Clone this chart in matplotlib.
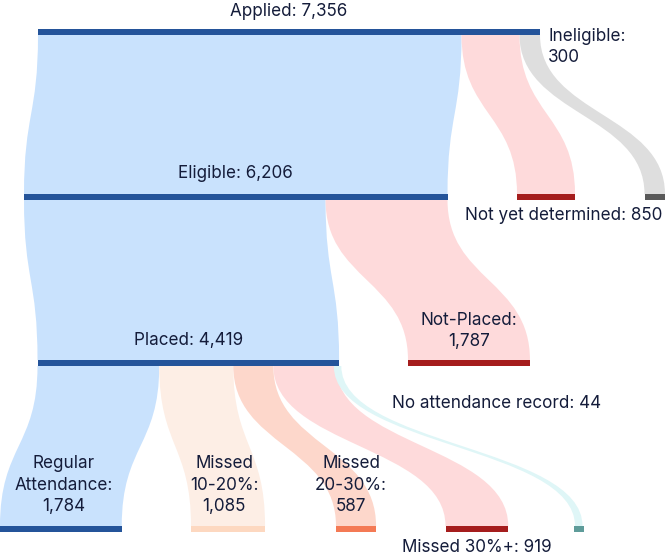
import matplotlib
matplotlib.use("Agg")
import matplotlib.pyplot as plt
from matplotlib.path import Path
from matplotlib.patches import PathPatch, Rectangle

# ---- data ----
node_names = ["Applied", "Eligible", "Not yet determined", "Ineligible",
              "Placed", "Not-Placed",
              "Regular Attendance", "Missed 10-20%", "Missed 20-30%",
              "Missed 30%+", "No attendance record"]
node_values = [7356, 6206, 850, 300, 4419, 1787, 1784, 1085, 587, 919, 44]
links_source = ["Applied", "Applied", "Applied",
                "Eligible", "Eligible",
                "Placed", "Placed", "Placed", "Placed", "Placed"]
links_target = ["Eligible", "Not yet determined", "Ineligible",
                "Placed", "Not-Placed",
                "Regular Attendance", "Missed 10-20%", "Missed 20-30%",
                "Missed 30%+", "No attendance record"]
links_value = [6206, 850, 300, 4419, 1787, 1784, 1085, 587, 919, 44]

# ---- layout / style ----
W, H = 665, 559
scale = 502.0 / 7356.0          # px per unit
bar_h = 6
min_node_w = 9.5
min_link_w = 7.5
level = {"Applied": 0, "Eligible": 1, "Not yet determined": 1, "Ineligible": 1,
         "Placed": 2, "Not-Placed": 2,
         "Regular Attendance": 3, "Missed 10-20%": 3, "Missed 20-30%": 3,
         "Missed 30%+": 3, "No attendance record": 3}
level_y = [29, 194, 360, 526]
node_x0 = {"Applied": 38, "Eligible": 24, "Not yet determined": 517,
           "Ineligible": 644.5, "Placed": 37.5, "Not-Placed": 408,
           "Regular Attendance": 0, "Missed 10-20%": 191, "Missed 20-30%": 336,
           "Missed 30%+": 445.5, "No attendance record": 574}
node_color = {"Applied": "#24549a", "Eligible": "#24549a", "Placed": "#24549a",
              "Regular Attendance": "#24549a",
              "Not yet determined": "#a51d1d", "Not-Placed": "#a51d1d",
              "Missed 30%+": "#a51d1d", "Ineligible": "#595959",
              "Missed 10-20%": "#fdd8c0", "Missed 20-30%": "#f47a55",
              "No attendance record": "#5e9c9a"}
flow_color = {"Eligible": "#c9e2fd", "Placed": "#c9e2fd",
              "Regular Attendance": "#c9e2fd",
              "Not yet determined": "#fedadb", "Not-Placed": "#fedadb",
              "Missed 30%+": "#fedadb", "Ineligible": "#dedede",
              "Missed 10-20%": "#fdeee5", "Missed 20-30%": "#fdd7cb",
              "No attendance record": "#dff6f7"}
text_color = "#141c3a"

plt.rcParams['font.family'] = ['Inter', 'DejaVu Sans']
fig = plt.figure(figsize=(W / 100, H / 100), dpi=100)
ax = fig.add_axes([0, 0, 1, 1])
ax.set_xlim(0, W)
ax.set_ylim(H, 0)
ax.axis("off")

val = dict(zip(node_names, node_values))

def node_w(n):
    return max(val[n] * scale, min_node_w)

# flows
src_off = {n: 0.0 for n in node_names}
for s, t, v in zip(links_source, links_target, links_value):
    w = v * scale
    sx0 = node_x0[s] + src_off[s]
    src_off[s] += w
    sc = sx0 + w / 2
    tc = node_x0[t] + node_w(t) / 2
    dw = max(w, min_link_w)
    sx0, sx1 = sc - dw / 2, sc + dw / 2
    tx0, tx1 = tc - dw / 2, tc + dw / 2
    ys = level_y[level[s]] + bar_h
    yt = level_y[level[t]]
    ym = (ys + yt) / 2
    verts = [(sx0, ys), (sx0, ym), (tx0, ym), (tx0, yt),
             (tx1, yt), (tx1, ym), (sx1, ym), (sx1, ys), (sx0, ys)]
    codes = [Path.MOVETO, Path.CURVE4, Path.CURVE4, Path.CURVE4,
             Path.LINETO, Path.CURVE4, Path.CURVE4, Path.CURVE4, Path.CLOSEPOLY]
    ax.add_patch(PathPatch(Path(verts, codes), facecolor=flow_color[t],
                           edgecolor="none", zorder=1))

# bars
for n in node_names:
    y = level_y[level[n]]
    ax.add_patch(Rectangle((node_x0[n], y), node_w(n), bar_h,
                           facecolor=node_color[n], edgecolor="none", zorder=2))

def cx(n):
    return node_x0[n] + node_w(n) / 2

fs = 12.3
ls = 1.37
def fmt(v):
    return f"{v:,}"

kw = dict(fontsize=fs, color=text_color)
ax.text(cx("Applied"), 12, f"Applied: {fmt(val['Applied'])}", ha="center",
        va="center", **kw)
ax.text(cx("Eligible"), 173, f"Eligible: {fmt(val['Eligible'])}", ha="center",
        va="center", **kw)
ax.text(548, 47, f"Ineligible:\n{fmt(val['Ineligible'])}", ha="left",
        va="center", linespacing=ls, **kw)
ax.text(662, 216, f"Not yet determined: {fmt(val['Not yet determined'])}",
        ha="right", va="center", **kw)
ax.text(cx("Placed"), 340, f"Placed: {fmt(val['Placed'])}", ha="center",
        va="center", **kw)
ax.text(cx("Not-Placed"), 331, f"Not-Placed:\n{fmt(val['Not-Placed'])}",
        ha="center", va="center", linespacing=ls, **kw)
ax.text(cx("Regular Attendance") + 3, 485,
        f"Regular\nAttendance:\n{fmt(val['Regular Attendance'])}",
        ha="center", va="center", linespacing=ls, **kw)
ax.text(cx("Missed 10-20%") - 4, 485,
        f"Missed\n10-20%:\n{fmt(val['Missed 10-20%'])}",
        ha="center", va="center", linespacing=ls, **kw)
ax.text(cx("Missed 20-30%") - 5, 485,
        f"Missed\n20-30%:\n{fmt(val['Missed 20-30%'])}",
        ha="center", va="center", linespacing=ls, **kw)
ax.text(cx("Missed 30%+"), 548, f"Missed 30%+: {fmt(val['Missed 30%+'])}",
        ha="center", va="center", **kw)
ax.text(497, 404, f"No attendance record: {fmt(val['No attendance record'])}",
        ha="center", va="center", **kw)

fig.savefig("out.png", dpi=100)
